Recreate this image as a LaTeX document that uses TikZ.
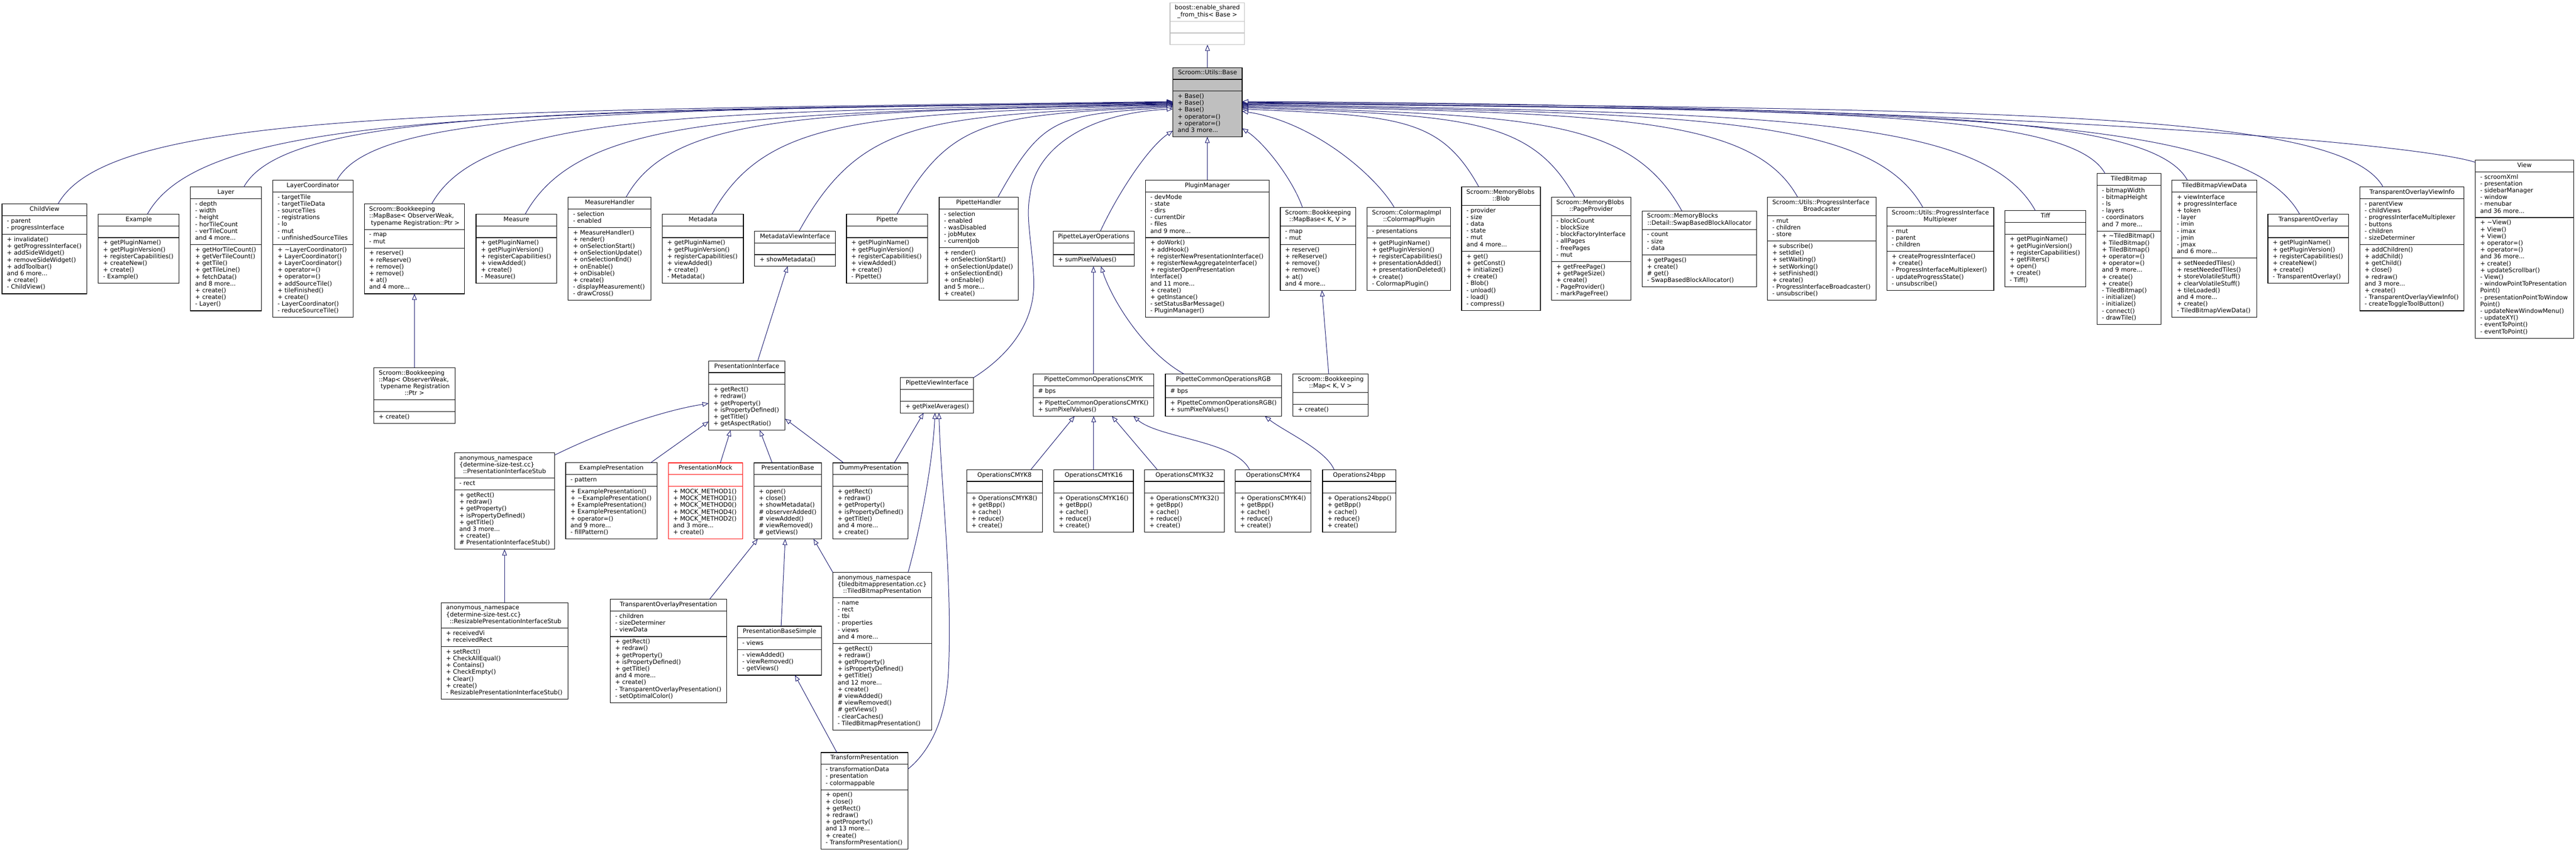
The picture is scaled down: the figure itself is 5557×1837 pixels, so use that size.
\documentclass[tikz,border=0pt]{standalone}
\usepackage{fontspec}
\setmainfont{DejaVu Sans}
\usetikzlibrary{arrows.meta,calc}
\definecolor{edgeblue}{HTML}{191970}
\definecolor{grayfill}{HTML}{BFBFBF}
\definecolor{mockred}{HTML}{FF0000}
\newcommand\umlfont{\fontsize{13.04pt}{14.67pt}\selectfont}
\newcommand\mdots{...}
\def\umlparse#1/#2/#3\relax{\def\ux{#1}\def\uy{#2}\def\uw{#3}}
\newcommand\countitems[2]{\gdef#1{0}\foreach \q in {#2}{\if\relax\detokenize\expandafter{\q}\relax\else\xdef#1{\the\numexpr#1+1\relax}\fi}}
\tikzset{
  umlbox/.style={draw=black, line width=1.3pt, fill=white, inner sep=0pt, outer sep=0pt, rectangle},
  umlsep/.style={draw=black, line width=1.3pt},
  umltext/.style={inner sep=0pt, outer sep=0pt, font=\umlfont},
  inh/.style={draw=edgeblue, line width=1.1pt, -{Triangle[length=13pt,width=10pt,fill=white]}},
  basebox/.style={fill=grayfill},
  extbox/.style={draw=grayfill},
  mockbox/.style={draw=mockred},
  plainbox/.style={}
}
% #1 name, #2 style, #3 x/y/w, #4 title lines, #5 attributes, #6 methods
\newcommand\umlclass[6]{%
  \umlparse#3\relax
  \expandafter\xdef\csname UX#1\endcsname{\ux}%
  \expandafter\xdef\csname UY#1\endcsname{\uy}%
  \countitems\nT{#4}\countitems\nA{#5}\countitems\nM{#6}%
  \pgfmathsetmacro\hT{max(\nT,1)*14.67+10.7}%
  \pgfmathsetmacro\hA{max(\nA,1)*14.67+10.7}%
  \pgfmathsetmacro\hM{max(\nM,1)*14.67+10.7}%
  \pgfmathsetmacro\hTot{\hT+\hA+\hM}%
  \pgfmathsetmacro\yA{\uy+\hT}%
  \pgfmathsetmacro\yM{\uy+\hT+\hA}%
  \pgfmathsetmacro\xc{\ux+\uw/2}%
  \pgfmathsetmacro\xl{\ux+10.5}%
  \node[umlbox,#2,minimum width=\uw pt,minimum height=\hTot pt,anchor=north west] (#1) at (\ux,\uy) {};
  \draw[umlsep,#2,fill=none] (\ux,\yA) -- ++(\uw,0);
  \draw[umlsep,#2,fill=none] (\ux,\yM) -- ++(\uw,0);
  \foreach \txt [count=\i] in {#4}{%
    \pgfmathsetmacro\yb{\uy+15.35+(\i-1)*14.67}%
    \ifnum\i<\nT\relax
      \node[umltext,anchor=base west] (#1-t\i) at (\xl,\yb) {\txt};
    \else
      \node[umltext,anchor=base] (#1-t\i) at (\xc,\yb) {\txt};
    \fi}%
  \foreach \txt [count=\i] in {#5}{%
    \if\relax\detokenize\expandafter{\txt}\relax\else
    \pgfmathsetmacro\yb{\yA+15.35+(\i-1)*14.67}%
    \node[umltext,anchor=base west] (#1-a\i) at (\xl,\yb) {\txt};\fi}%
  \foreach \txt [count=\i] in {#6}{%
    \if\relax\detokenize\expandafter{\txt}\relax\else
    \pgfmathsetmacro\yb{\yM+15.35+(\i-1)*14.67}%
    \node[umltext,anchor=base west] (#1-m\i) at (\xl,\yb) {\txt};\fi}%
}
% edges into the left / right side of Base
\newcommand\baseedgeL[3]{%
  \pgfmathsetmacro\xs{\csname UX#1\endcsname+#2}%
  \pgfmathsetmacro\ys{\csname UY#1\endcsname}%
  \pgfmathsetmacro\hh{\ys-#3}%
  \pgfmathsetmacro\cax{\xs+0.5*\hh}%
  \pgfmathsetmacro\cay{\ys-0.9*\hh}%
  \pgfmathsetmacro\cbx{2530-0.66*(2530-\xs)}%
  \pgfmathsetmacro\cby{#3+0.09*\hh}%
  \pgfmathsetmacro\ey{#3-145.7}%
  \draw[inh] ([xshift=#2pt]#1.north west) .. controls (\cax,\cay) and (\cbx,\cby) .. ([yshift=-\ey pt]base.north west);}
\newcommand\baseedgeR[3]{%
  \pgfmathsetmacro\xs{\csname UX#1\endcsname+#2}%
  \pgfmathsetmacro\ys{\csname UY#1\endcsname}%
  \pgfmathsetmacro\hh{\ys-#3}%
  \pgfmathsetmacro\cax{\xs-0.5*\hh}%
  \pgfmathsetmacro\cay{\ys-0.9*\hh}%
  \pgfmathsetmacro\cbx{2679.6+0.66*(\xs-2679.6)}%
  \pgfmathsetmacro\cby{#3+0.09*\hh}%
  \pgfmathsetmacro\ey{#3-145.7}%
  \draw[inh] ([xshift=#2pt]#1.north west) .. controls (\cax,\cay) and (\cbx,\cby) .. ([yshift=-\ey pt]base.north east);}
\begin{document}
\begin{tikzpicture}[x=1pt,y=-1pt]
\fill[white] (0,0) rectangle (5557,1837);
\useasboundingbox (0,0) rectangle (5557,1837);

% ---------- top ----------
\umlclass{boost}{extbox}{2524/5.7/161}{{boost::enable\_shared},{\_from\_this< Base >}}{}{}
\umlclass{base}{basebox}{2530/145.7/149.6}{{Scroom::Utils::Base}}{}{{+ Base()},{+ Base()},{+ Base()},{+ operator=()},{+ operator=()},{and 3 more\mdots}}

% ---------- row of classes derived from Base ----------
\umlclass{childview}{plainbox}{4.5/440/183}{{ChildView}}{{- parent},{- progressInterface}}{{+ invalidate()},{+ getProgressInterface()},{+ addSideWidget()},{+ removeSideWidget()},{+ addToolbar()},{and 6 more\mdots},{+ create()},{- ChildView()}}
\umlclass{example}{plainbox}{212/461.7/174.6}{{Example}}{}{{+ getPluginName()},{+ getPluginVersion()},{+ registerCapabilities()},{+ createNew()},{+ create()},{- Example()}}
\umlclass{layer}{plainbox}{410.7/403.3/153.1}{{Layer}}{{- depth},{- width},{- height},{- horTileCount},{- verTileCount},{and 4 more\mdots}}{{+ getHorTileCount()},{+ getVerTileCount()},{+ getTile()},{+ getTileLine()},{+ fetchData()},{and 8 more\mdots},{+ create()},{+ create()},{- Layer()}}
\umlclass{layercoord}{plainbox}{588.4/388.3/173}{{LayerCoordinator}}{{- targetTile},{- targetTileData},{- sourceTiles},{- registrations},{- lo},{- mut},{- unfinishedSourceTiles}}{{+ \textasciitilde LayerCoordinator()},{+ LayerCoordinator()},{+ LayerCoordinator()},{+ operator=()},{+ operator=()},{+ addSourceTile()},{+ tileFinished()},{+ create()},{- LayerCoordinator()},{- reduceSourceTile()}}
\umlclass{mapbaseow}{plainbox}{786/440/215.6}{{Scroom::Bookkeeping},{::MapBase< ObserverWeak,},{\ typename Registration::Ptr >}}{{- map},{- mut}}{{+ reserve()},{+ reReserve()},{+ remove()},{+ remove()},{+ at()},{and 4 more\mdots}}
\umlclass{measure}{plainbox}{1027/461.7/174}{{Measure}}{}{{+ getPluginName()},{+ getPluginVersion()},{+ registerCapabilities()},{+ viewAdded()},{+ create()},{- Measure()}}
\umlclass{measurehandler}{plainbox}{1225.7/425/178.8}{{MeasureHandler}}{{- selection},{- enabled}}{{+ MeasureHandler()},{+ render()},{+ onSelectionStart()},{+ onSelectionUpdate()},{+ onSelectionEnd()},{+ onEnable()},{+ onDisable()},{+ create()},{- displayMeasurement()},{- drawCross()}}
\umlclass{metadata}{plainbox}{1429/461.7/174.7}{{Metadata}}{}{{+ getPluginName()},{+ getPluginVersion()},{+ registerCapabilities()},{+ viewAdded()},{+ create()},{- Metadata()}}
\umlclass{metadatavi}{plainbox}{1628/498.3/174}{{MetadataViewInterface}}{}{{+ showMetadata()}}
\umlclass{pipette}{plainbox}{1826/461.7/175}{{Pipette}}{}{{+ getPluginName()},{+ getPluginVersion()},{+ registerCapabilities()},{+ viewAdded()},{+ create()},{- Pipette()}}
\umlclass{pipettehandler}{plainbox}{2026/425/170.4}{{PipetteHandler}}{{- selection},{- enabled},{- wasDisabled},{- jobMutex},{- currentJob}}{{+ render()},{+ onSelectionStart()},{+ onSelectionUpdate()},{+ onSelectionEnd()},{+ onEnable()},{and 5 more\mdots},{+ create()}}
\umlclass{plo}{plainbox}{2272/498.3/174.5}{{PipetteLayerOperations}}{}{{+ sumPixelValues()}}
\umlclass{pluginmanager}{plainbox}{2471/388.3/267}{{PluginManager}}{{- devMode},{- state},{- dirs},{- currentDir},{- files},{and 9 more\mdots}}{{+ doWork()},{+ addHook()},{+ registerNewPresentationInterface()},{+ registerNewAggregateInterface()},{+ registerOpenPresentation},{Interface()},{and 11 more\mdots},{+ create()},{+ getInstance()},{- setStatusBarMessage()},{- PluginManager()}}
\umlclass{mapbasekv}{plainbox}{2761.7/447.3/162.7}{{Scroom::Bookkeeping},{::MapBase< K, V >}}{{- map},{- mut}}{{+ reserve()},{+ reReserve()},{+ remove()},{+ remove()},{+ at()},{and 4 more\mdots}}
\umlclass{colormapplugin}{plainbox}{2949.3/447.3/180}{{Scroom::ColormapImpl},{::ColormapPlugin}}{{- presentations}}{{+ getPluginName()},{+ getPluginVersion()},{+ registerCapabilities()},{+ presentationAdded()},{+ presentationDeleted()},{+ create()},{- ColormapPlugin()}}
\umlclass{blob}{plainbox}{3153/402.7/170}{{Scroom::MemoryBlobs},{::Blob}}{{- provider},{- size},{- data},{- state},{- mut},{and 4 more\mdots}}{{+ get()},{+ getConst()},{+ initialize()},{+ create()},{- Blob()},{- unload()},{- load()},{- compress()}}
\umlclass{pageprovider}{plainbox}{3346.8/425/171.2}{{Scroom::MemoryBlobs},{::PageProvider}}{{- blockCount},{- blockSize},{- blockFactoryInterface},{- allPages},{- freePages},{- mut}}{{+ getFreePage()},{+ getPageSize()},{+ create()},{- PageProvider()},{- markPageFree()}}
\umlclass{swapbased}{plainbox}{3542.5/454.7/246.8}{{Scroom::MemoryBlocks},{::Detail::SwapBasedBlockAllocator}}{{- count},{- size},{- data}}{{+ getPages()},{+ create()},{\# get()},{- SwapBasedBlockAllocator()}}
\umlclass{broadcaster}{plainbox}{3812.7/425/234}{{Scroom::Utils::ProgressInterface},{Broadcaster}}{{- mut},{- children},{- store}}{{+ subscribe()},{+ setIdle()},{+ setWaiting()},{+ setWorking()},{+ setFinished()},{+ create()},{- ProgressInterfaceBroadcaster()},{- unsubscribe()}}
\umlclass{multiplexer}{plainbox}{4070.5/447.3/230.5}{{Scroom::Utils::ProgressInterface},{Multiplexer}}{{- mut},{- parent},{- children}}{{+ createProgressInterface()},{+ create()},{- ProgressInterfaceMultiplexer()},{- updateProgressState()},{- unsubscribe()}}
\umlclass{tiff}{plainbox}{4325/454/174.6}{{Tiff}}{}{{+ getPluginName()},{+ getPluginVersion()},{+ registerCapabilities()},{+ getFilters()},{+ open()},{+ create()},{- Tiff()}}
\umlclass{tiledbitmap}{plainbox}{4523.7/374/137.6}{{TiledBitmap}}{{- bitmapWidth},{- bitmapHeight},{- ls},{- layers},{- coordinators},{and 7 more\mdots}}{{+ \textasciitilde TiledBitmap()},{+ TiledBitmap()},{+ TiledBitmap()},{+ operator=()},{+ operator=()},{and 9 more\mdots},{+ create()},{+ create()},{- TiledBitmap()},{- initialize()},{- initialize()},{- connect()},{- drawTile()}}
\umlclass{tbviewdata}{plainbox}{4685.4/388.3/182.8}{{TiledBitmapViewData}}{{+ viewInterface},{+ progressInterface},{+ token},{- layer},{- imin},{- imax},{- jmin},{- jmax},{and 6 more\mdots}}{{+ setNeededTiles()},{+ resetNeededTiles()},{+ storeVolatileStuff()},{+ clearVolatileStuff()},{+ tileLoaded()},{and 4 more\mdots},{+ create()},{- TiledBitmapViewData()}}
\umlclass{transparentoverlay}{plainbox}{4892.3/461.7/174}{{TransparentOverlay}}{}{{+ getPluginName()},{+ getPluginVersion()},{+ registerCapabilities()},{+ createNew()},{+ create()},{- TransparentOverlay()}}
\umlclass{tovinfo}{plainbox}{5090.6/403.3/225}{{TransparentOverlayViewInfo}}{{- parentView},{- childViews},{- progressInterfaceMultiplexer},{- buttons},{- children},{- sizeDeterminer}}{{+ addChildren()},{+ addChild()},{+ getChild()},{+ close()},{+ redraw()},{and 3 more\mdots},{+ create()},{- TransparentOverlayViewInfo()},{- createToggleToolButton()}}
\umlclass{view}{plainbox}{5339.9/345/212}{{View}}{{- scroomXml},{- presentation},{- sidebarManager},{- window},{- menubar},{and 36 more\mdots}}{{+ \textasciitilde View()},{+ View()},{+ View()},{+ operator=()},{+ operator=()},{and 36 more\mdots},{+ create()},{+ updateScrollbar()},{- View()},{- windowPointToPresentation},{Point()},{- presentationPointToWindow},{Point()},{- updateNewWindowMenu()},{- updateXY()},{- eventToPoint()},{- eventToPoint()}}

% ---------- lower part ----------
\umlclass{mapow}{plainbox}{806.5/792.7/175}{{Scroom::Bookkeeping},{::Map< ObserverWeak,},{\ typename Registration},{::Ptr >}}{}{{+ create()}}
\umlclass{presif}{plainbox}{1528.5/778.2/165}{{PresentationInterface}}{}{{+ getRect()},{+ redraw()},{+ getProperty()},{+ isPropertyDefined()},{+ getTitle()},{+ getAspectRatio()}}
\umlclass{presstub}{plainbox}{980.5/976.4/215.8}{{anonymous\_namespace},{\{determine-size-test.cc\}},{::PresentationInterfaceStub}}{{- rect}}{{+ getRect()},{+ redraw()},{+ getProperty()},{+ isPropertyDefined()},{+ getTitle()},{and 3 more\mdots},{+ create()},{\# PresentationInterfaceStub()}}
\umlclass{resizable}{plainbox}{951.9/1299.4/273}{{anonymous\_namespace},{\{determine-size-test.cc\}},{\ ::ResizablePresentationInterfaceStub}}{{+ receivedVi},{+ receivedRect}}{{+ setRect()},{+ CheckAllEqual()},{+ Contains()},{+ CheckEmpty()},{+ Clear()},{+ create()},{- ResizablePresentationInterfaceStub()}}
\umlclass{examplepres}{plainbox}{1220.3/997.8/197.5}{{ExamplePresentation}}{{- pattern}}{{+ ExamplePresentation()},{+ \textasciitilde ExamplePresentation()},{+ ExamplePresentation()},{+ ExamplePresentation()},{+ operator=()},{and 9 more\mdots},{- fillPattern()}}
\umlclass{presmock}{mockbox}{1441.6/998/160.3}{{PresentationMock}}{}{{+ MOCK\_METHOD1()},{+ MOCK\_METHOD1()},{+ MOCK\_METHOD0()},{+ MOCK\_METHOD4()},{+ MOCK\_METHOD2()},{and 3 more\mdots},{+ create()}}
\umlclass{presbase}{plainbox}{1626.4/998/145.6}{{PresentationBase}}{}{{+ open()},{+ close()},{+ showMetadata()},{\# observerAdded()},{\# viewAdded()},{\# viewRemoved()},{\# getViews()}}
\umlclass{dummypres}{plainbox}{1796.5/998/162.5}{{DummyPresentation}}{}{{+ getRect()},{+ redraw()},{+ getProperty()},{+ isPropertyDefined()},{+ getTitle()},{and 4 more\mdots},{+ create()}}
\umlclass{topres}{plainbox}{1316.7/1292.4/250.6}{{TransparentOverlayPresentation}}{{- children},{- sizeDeterminer},{- viewData}}{{+ getRect()},{+ redraw()},{+ getProperty()},{+ isPropertyDefined()},{+ getTitle()},{and 4 more\mdots},{+ create()},{- TransparentOverlayPresentation()},{- setOptimalColor()}}
\umlclass{presbasesimple}{plainbox}{1591/1350.4/181.4}{{PresentationBaseSimple}}{{- views}}{{- viewAdded()},{- viewRemoved()},{- getViews()}}
\umlclass{tbpres}{plainbox}{1796.5/1234/213}{{anonymous\_namespace},{\{tiledbitmappresentation.cc\}},{::TiledBitmapPresentation}}{{- name},{- rect},{- tbi},{- properties},{- views},{and 4 more\mdots}}{{+ getRect()},{+ redraw()},{+ getProperty()},{+ isPropertyDefined()},{+ getTitle()},{and 12 more\mdots},{+ create()},{\# viewAdded()},{\# viewRemoved()},{\# getViews()},{- clearCaches()},{- TiledBitmapPresentation()}}
\umlclass{transformpres}{plainbox}{1770.6/1622.7/188.4}{{TransformPresentation}}{{- transformationData},{- presentation},{- colormappable}}{{+ open()},{+ close()},{+ getRect()},{+ redraw()},{+ getProperty()},{and 13 more\mdots},{+ create()},{- TransformPresentation()}}
\umlclass{pvi}{plainbox}{1942.6/814.3/157.6}{{PipetteViewInterface}}{}{{+ getPixelAverages()}}
\umlclass{pcocmyk}{plainbox}{2228.7/806.7/260.3}{{PipetteCommonOperationsCMYK}}{{\# bps}}{{+ PipetteCommonOperationsCMYK()},{+ sumPixelValues()}}
\umlclass{pcorgb}{plainbox}{2514/806.7/250.3}{{PipetteCommonOperationsRGB}}{{\# bps}}{{+ PipetteCommonOperationsRGB()},{+ sumPixelValues()}}
\umlclass{mapkv}{plainbox}{2789.2/806.7/161.8}{{Scroom::Bookkeeping},{::Map< K, V >}}{}{{+ create()}}
\umlclass{opscmyk8}{plainbox}{2085.2/1012.7/163.4}{{OperationsCMYK8}}{}{{+ OperationsCMYK8()},{+ getBpp()},{+ cache()},{+ reduce()},{+ create()}}
\umlclass{opscmyk16}{plainbox}{2273.5/1012.7/171.6}{{OperationsCMYK16}}{}{{+ OperationsCMYK16()},{+ getBpp()},{+ cache()},{+ reduce()},{+ create()}}
\umlclass{opscmyk32}{plainbox}{2469.2/1012.7/172.4}{{OperationsCMYK32}}{}{{+ OperationsCMYK32()},{+ getBpp()},{+ cache()},{+ reduce()},{+ create()}}
\umlclass{opscmyk4}{plainbox}{2664.8/1012.7/163.4}{{OperationsCMYK4}}{}{{+ OperationsCMYK4()},{+ getBpp()},{+ cache()},{+ reduce()},{+ create()}}
\umlclass{ops24bpp}{plainbox}{2853/1012.7/158.4}{{Operations24bpp}}{}{{+ Operations24bpp()},{+ getBpp()},{+ cache()},{+ reduce()},{+ create()}}

% ---------- edges to Base ----------
\draw[inh] (base.north) -- (base.north |- boost.south);
\draw[inh] (pluginmanager.north) -- (pluginmanager.north |- base.south);
\baseedgeL{childview}{120.5}{219}
\baseedgeL{example}{106}{220}
\baseedgeL{layer}{115.2}{221}
\baseedgeL{layercoord}{138.6}{222}
\baseedgeL{mapbaseow}{145}{223}
\baseedgeL{measure}{106}{224}
\baseedgeL{measurehandler}{125}{225}
\baseedgeL{metadata}{107}{226}
\baseedgeL{metadatavi}{95.8}{227.5}
\baseedgeL{pipette}{109}{229}
\baseedgeL{pipettehandler}{126.8}{231}
\draw[inh] ([xshift=101.8pt]plo.north west) .. controls (2415,410) and (2480,315) .. ([yshift=-136.3pt]base.north west);
\draw[inh] (pvi.north east) .. controls (2170,770) and (2235,700) .. (2230,600) .. controls (2226,520) and (2212,470) .. (2222,420) .. controls (2232,330) and (2330,245) .. ([yshift=-89.3pt]base.north west);
\draw[inh] ([xshift=48pt]mapbasekv.north west) .. controls (2790,390) and (2730,310) .. ([yshift=-131pt]base.north east);
\draw[inh] ([xshift=58.4pt]colormapplugin.north west) .. controls (2965,375) and (2830,262) .. ([yshift=-94.3pt]base.north east);
\baseedgeR{blob}{37}{235}
\baseedgeR{pageprovider}{50.2}{232}
\baseedgeR{swapbased}{85.6}{230}
\baseedgeR{broadcaster}{65.1}{228}
\baseedgeR{multiplexer}{77.5}{226}
\baseedgeR{tiff}{65.6}{224.5}
\baseedgeR{tiledbitmap}{17.3}{223}
\baseedgeR{tbviewdata}{33.1}{222}
\baseedgeR{transparentoverlay}{68.4}{221}
\baseedgeR{tovinfo}{50.3}{220}
\draw[inh] ([yshift=-5pt]view.north west) .. controls (5200,305) and (4200,225) .. ([yshift=-73.3pt]base.north east);

% ---------- lower edges ----------
\draw[inh] (mapow.north) -- (mapow.north |- mapbaseow.south);
\draw[inh] (resizable.north) -- (resizable.north |- presstub.south);
\draw[inh] (pcocmyk.north) -- (pcocmyk.north |- plo.south);
\draw[inh] (opscmyk16.north) -- (opscmyk16.north |- pcocmyk.south);
\draw[inh] ([xshift=23.5pt]presif.north) -- ([xshift=-16pt]metadatavi.south);
\draw[inh] ([yshift=-5pt]presstub.north east) .. controls (1300,930) and (1430,885) .. ([yshift=-17pt]presif.west);
\draw[inh] ([xshift=84.5pt]examplepres.north) -- ([yshift=-56pt]presif.west);
\draw[inh] ([xshift=32.25pt]presmock.north) -- ([xshift=-35pt]presif.south);
\draw[inh] ([xshift=-33.5pt]presbase.north) -- ([xshift=28pt]presif.south);
\draw[inh] ([xshift=-57.75pt]dummypres.north) -- ([yshift=-50pt]presif.east);
\draw[inh] ([xshift=51.25pt]dummypres.north) -- ([xshift=-29pt]pvi.south);
\draw[inh] ([xshift=56pt]tbpres.north) .. controls (1985,1140) and (2012,1000) .. ([xshift=-4.4pt]pvi.south);
\draw[inh] ([yshift=-35.3pt]transformpres.north east) .. controls (2000,1625) and (2040,1560) .. (2046,1450) .. controls (2055,1250) and (2030,1050) .. ([xshift=4.1pt]pvi.south);
\draw[inh] ([xshift=88.5pt]topres.north) -- ([xshift=-64.7pt]presbase.south);
\draw[inh] ([xshift=3.3pt]presbasesimple.north) -- ([xshift=-5.4pt]presbase.south);
\draw[inh] (tbpres.north west) -- ([xshift=55.8pt]presbase.south);
\draw[inh] ([xshift=-59.4pt]transformpres.north) -- ([xshift=33.1pt]presbasesimple.south);
\draw[inh] ([xshift=-84.4pt]pcorgb.north) .. controls (2470,760) and (2400,650) .. ([xshift=15.75pt]plo.south);
\draw[inh] ([xshift=-3.8pt]mapkv.north) -- ([xshift=8.65pt]mapbasekv.south);
\draw[inh] ([xshift=56.8pt]opscmyk8.north) -- ([xshift=-40.85pt]pcocmyk.south);
\draw[inh] ([xshift=-58.9pt]opscmyk32.north) -- ([xshift=39.85pt]pcocmyk.south);
\draw[inh] ([xshift=-51pt]opscmyk4.north) .. controls (2665,950) and (2500,945) .. ([xshift=86.15pt]pcocmyk.south);
\draw[inh] ([xshift=-54.2pt]ops24bpp.north) .. controls (2860,970) and (2770,930) .. ([xshift=89.55pt]pcorgb.south);
\end{tikzpicture}
\end{document}
